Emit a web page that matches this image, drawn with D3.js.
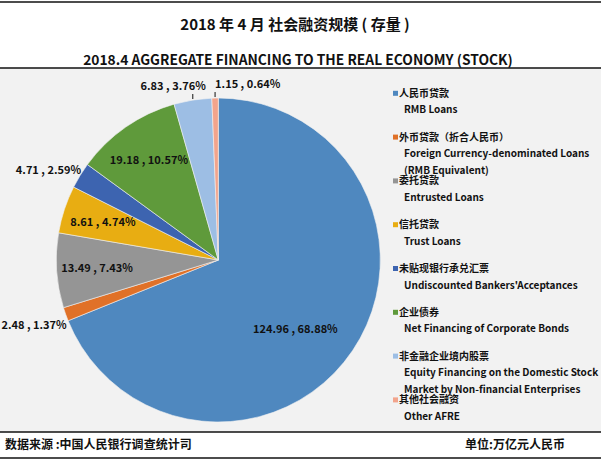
<!DOCTYPE html>
<html>
<head>
<meta charset="utf-8">
<script src="https://cdnjs.cloudflare.com/ajax/libs/d3/7.8.5/d3.min.js"></script>
<style>
  body { margin: 0; background: #fff; }
  svg text { font-family: "Noto Sans CJK SC", "Noto Sans", sans-serif; font-weight: bold; fill: #111; }
</style>
</head>
<body>
<svg id="chart"></svg>
<script>
// 2018年4月 社会融资规模（存量）
var width = 601, height = 463;

// données
const categoriesZh = ["人民币贷款", "外币贷款（折合人民币）", "委托贷款", "信托贷款",
  "未贴现银行承兑汇票", "企业债券", "非金融企业境内股票", "其他社会融资"];
const categoriesEn = [
  ["RMB Loans"],
  ["Foreign Currency-denominated Loans", "(RMB Equivalent)"],
  ["Entrusted Loans"],
  ["Trust Loans"],
  ["Undiscounted Bankers'Acceptances"],
  ["Net Financing of Corporate Bonds"],
  ["Equity Financing on the Domestic Stock", "Market by Non-financial Enterprises"],
  ["Other AFRE"]
];
const values = [124.96, 2.48, 13.49, 8.61, 4.71, 19.18, 6.83, 1.15];
const percents = ["68.88%", "1.37%", "7.43%", "4.74%", "2.59%", "10.57%", "3.76%", "0.64%"];
const colors = ["#4f88bf", "#e07128", "#959595", "#e8ad12", "#3d64b0", "#5f9a3b", "#9dbee4", "#f2a48c"];

const svg = d3.select("#chart").attr("width", width).attr("height", height);

// fonds
svg.append("rect").attr("width", width).attr("height", height).attr("fill", "#fff");
svg.append("rect").attr("x", 0).attr("y", 68).attr("width", width).attr("height", 364).attr("fill", "#f2f2f2");

// lignes
[2, 68, 432, 458].forEach(y => {
  svg.append("line").attr("x1", 0).attr("x2", width).attr("y1", y).attr("y2", y)
    .attr("stroke", "#111").attr("stroke-width", 1.5);
});

// titres
svg.append("text").attr("x", 295).attr("y", 30).attr("text-anchor", "middle")
  .style("font-size", "15px").text("2018 年 4 月  社会融资规模 ( 存量 )");
svg.append("text").attr("x", 298).attr("y", 64.5).attr("text-anchor", "middle")
  .style("font-size", "13.8px").text("2018.4 AGGREGATE FINANCING TO THE REAL ECONOMY (STOCK)");

// pied de page
svg.append("text").attr("x", 5).attr("y", 449).style("font-size", "12px").text("数据来源 :中国人民银行调查统计司");
svg.append("text").attr("x", 465).attr("y", 449).style("font-size", "12px").text("单位:万亿元人民币");

// camembert
const cx = 218.3, cy = 260, R = 162;
const pie = d3.pie().sort(null).value(d => d);
const arc = d3.arc().innerRadius(0).outerRadius(R);
const arcs = pie(values);

const g = svg.append("g").attr("transform", `translate(${cx},${cy})`);
g.selectAll("path")
  .data(arcs)
  .enter().append("path")
  .attr("d", arc)
  .attr("fill", (d, i) => colors[i])
  .attr("stroke", "#f2f2f2")
  .attr("stroke-width", 0.6);

const labelText = i => values[i].toFixed(2) + " , " + percents[i];
const polar = (r, a) => [r * Math.sin(a), -r * Math.cos(a)];
const fs = "11px";

let topLabels = [];
arcs.forEach((d, i) => {
  const mid = (d.startAngle + d.endAngle) / 2;
  const share = (d.endAngle - d.startAngle) / (2 * Math.PI);
  if (share > 0.04) {
    // étiquette dans la part
    let r = 0.75 * R, a = mid;
    if (share > 0.5) { r = 0.64 * R; a = mid + 8 * Math.PI / 180; }
    const p = polar(r, a);
    g.append("text").attr("x", p[0]).attr("y", p[1] + 4)
      .attr("text-anchor", "middle").style("font-size", fs).text(labelText(i));
  } else {
    const p = polar(R, mid);
    if (Math.abs(Math.sin(mid)) < 0.3 && Math.cos(mid) > 0) {
      topLabels.push({i: i, p: p});
    } else {
      g.append("text").attr("x", p[0] + 1).attr("y", p[1] > 0 ? p[1] + 14.5 : p[1] - 1.5)
        .attr("text-anchor", p[0] < 0 ? "end" : "start")
        .style("font-size", fs).text(labelText(i));
    }
  }
});

// étiquettes du haut avec traits de rappel
topLabels.sort((a, b) => a.p[0] - b.p[0]);
topLabels.forEach((t, k) => {
  g.append("line").attr("x1", t.p[0]).attr("x2", t.p[0])
    .attr("y1", t.p[1] - 1).attr("y2", t.p[1] - 6)
    .attr("stroke", "#111").attr("stroke-width", 1);
  g.append("text")
    .attr("x", k === 0 ? t.p[0] + 13 : t.p[0])
    .attr("y", t.p[1] - 10)
    .attr("text-anchor", k === 0 ? "end" : "start")
    .style("font-size", fs).text(labelText(t.i));
});

// légende
const legend = svg.append("g");
categoriesZh.forEach((name, i) => {
  const y = 93.3 + i * 43.8;
  legend.append("rect").attr("x", 393).attr("y", y - 2.5).attr("width", 5).attr("height", 5)
    .attr("fill", colors[i]);
  legend.append("text").attr("x", 399).attr("y", y + 3.5).style("font-size", "10px").text(name);
  categoriesEn[i].forEach((line, j) => {
    legend.append("text").attr("x", 404).attr("y", y + 20 + j * 16.5)
      .style("font-size", "10px").text(line);
  });
});
</script>
</body>
</html>
